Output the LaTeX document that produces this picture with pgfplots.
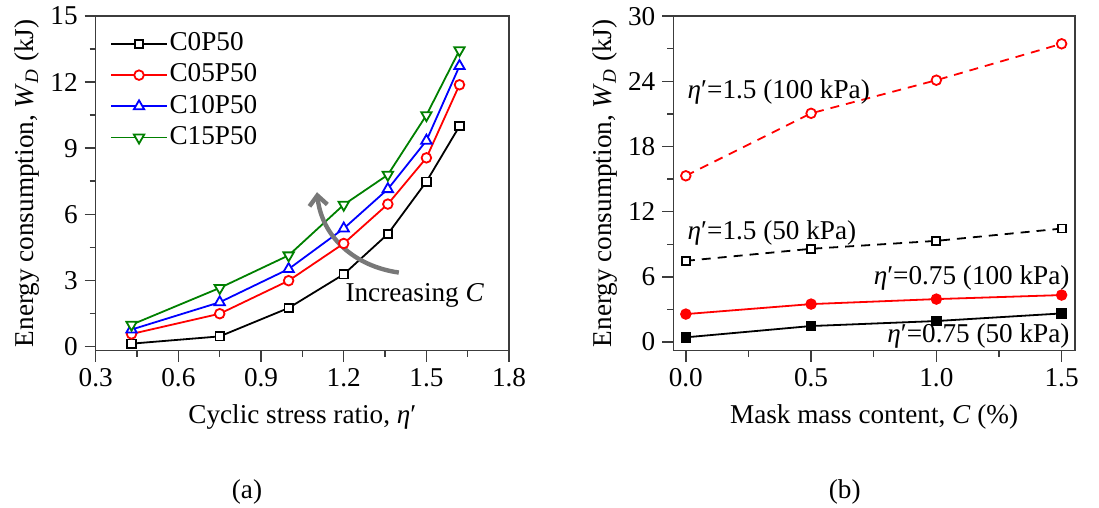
\documentclass[border=0pt]{standalone}
\usepackage{fontspec}
\setmainfont{Liberation Serif}
\usepackage{pgfplots}
\pgfplotsset{compat=1.18}
\usetikzlibrary{arrows.meta}

\definecolor{axgray}{RGB}{60,60,60}
\definecolor{arrgray}{RGB}{120,120,120}
\definecolor{cgreen}{RGB}{0,128,0}

\newcommand{\etap}{\textit{η}′}

\pgfplotsset{
  panel/.style={
    scale only axis,
    height=167.3pt,
    font=\fontsize{13.6}{16}\selectfont,
    tick label style={font=\fontsize{13.6}{16}\selectfont},
    /pgf/number format/assume math mode=true,
    axis line style={draw=axgray, line width=0.7pt},
    every tick/.style={draw=axgray, line width=0.7pt},
    tick align=outside,
    xtick pos=bottom, ytick pos=left,
    major tick length=5.5pt,
    minor tick length=3pt,
    minor tick num=1,
    clip=false,
    xlabel style={yshift=-2pt},
  },
}

\begin{document}
\begin{tikzpicture}
\useasboundingbox (0,0) rectangle (549.5pt,254pt);

% (a) energy vs cyclic stress ratio
\begin{axis}[panel,
  at={(47.85pt,78.65pt)}, anchor=south west,
  width=206.7pt,
  xmin=0.3, xmax=1.8, ymin=-0.2, ymax=15,
  xtick={0.3,0.6,...,1.8}, ytick={0,3,...,15},
  xticklabel style={/pgf/number format/.cd, fixed, fixed zerofill, precision=1},
  xlabel={Cyclic stress ratio,\ \etap},
  ylabel={Energy consumption, \textit{W}\textsubscript{\textit{D}} (kJ)},
  ylabel style={yshift=-1.5pt},
  legend cell align=left,
  legend style={at={(0.034,0.961)}, anchor=north west, draw=none, fill=none,
    inner sep=0pt, row sep=1.2pt,
    nodes={inner sep=0.8pt, text height=9.8pt, text depth=3pt}},
  legend image code/.code={\draw[mark repeat=2,mark phase=2] plot coordinates {(0pt,0pt) (14pt,0pt) (28pt,0pt)};},
]
\addplot[black, line width=0.9pt, mark=square*, mark size=2.1pt, mark options={fill=white, solid}]
  coordinates {(0.43,0.12) (0.75,0.45) (1.0,1.74) (1.2,3.27) (1.36,5.10) (1.5,7.48) (1.62,10.0)};
\addlegendentry{C0P50}
\addplot[red, line width=0.9pt, mark=*, mark size=2.4pt, mark options={fill=white, solid}]
  coordinates {(0.43,0.56) (0.75,1.48) (1.0,2.98) (1.2,4.67) (1.36,6.46) (1.5,8.56) (1.62,11.88)};
\addlegendentry{C05P50}
\addplot[blue, line width=0.9pt, mark=triangle*, mark size=3pt, mark options={fill=white, solid}]
  coordinates {(0.43,0.76) (0.75,2.0) (1.0,3.51) (1.2,5.35) (1.36,7.14) (1.5,9.34) (1.62,12.73)};
\addlegendentry{C10P50}
\addplot[cgreen, line width=0.9pt, mark=triangle*, mark size=3pt, mark options={fill=white, solid, rotate=180}]
  coordinates {(0.43,0.98) (0.75,2.65) (1.0,4.13) (1.2,6.43) (1.36,7.79) (1.5,10.5) (1.62,13.45)};
\addlegendentry{C15P50}

\draw[arrgray, line width=2.2pt, -{Straight Barb[length=5pt,width=9pt]}]
  (axis cs:1.40,3.35) to[out=172, in=-84] (axis cs:1.103,7.0);
\node[anchor=base west, inner sep=0pt] at (axis cs:1.205,2.04) {Increasing \textit{C}};
\node[inner sep=0pt] at (rel axis cs:0.366,0) [yshift=-70.5pt] {(a)};
\end{axis}

% (b) energy vs mask content
\begin{axis}[panel,
  at={(336.65pt,78.65pt)}, anchor=south west,
  width=200.8pt,
  xmin=-0.05, xmax=1.553, ymin=-0.8, ymax=30,
  xtick={0,0.5,1,1.5}, ytick={0,6,...,30},
  xticklabel style={/pgf/number format/.cd, fixed, fixed zerofill, precision=1},
  xlabel={Mask mass content, \textit{C} (\%)},
  ylabel={Energy consumption, \textit{W}\textsubscript{\textit{D}} (kJ)},
  ylabel style={yshift=-1.5pt},
]
\addplot[red, line width=0.9pt, dash pattern=on 4.5pt off 3.5pt, mark=*, mark size=2.4pt, mark options={fill=white, solid}]
  coordinates {(0,15.3) (0.5,21.05) (1.0,24.1) (1.5,27.45)};
\addplot[black, line width=0.9pt, dash pattern=on 4.5pt off 3.5pt, mark=square*, mark size=2pt, mark options={fill=white, solid}]
  coordinates {(0,7.47) (0.5,8.58) (1.0,9.31) (1.5,10.44)};
\addplot[red, line width=0.9pt, mark=*, mark size=2.4pt, mark options={fill=red, solid}]
  coordinates {(0,2.57) (0.5,3.49) (1.0,3.95) (1.5,4.32)};
\addplot[black, line width=0.9pt, mark=square*, mark size=2.2pt, mark options={fill=black, solid}]
  coordinates {(0,0.43) (0.5,1.47) (1.0,1.93) (1.5,2.63)};

\node[anchor=base west, inner sep=0pt] at (axis cs:0.006,22.43) {\etap=1.5 (100 kPa)};
\node[anchor=base west, inner sep=0pt] at (axis cs:0.006,9.47) {\etap=1.5 (50 kPa)};
\node[anchor=base east, inner sep=0pt] at (axis cs:1.533,5.27) {\etap=0.75 (100 kPa)};
\node[anchor=base east, inner sep=0pt] at (axis cs:1.533,-0.04) {\etap=0.75 (50 kPa)};
\node[inner sep=0pt] at (rel axis cs:0.427,0) [yshift=-70.5pt] {(b)};
\end{axis}
\end{tikzpicture}
\end{document}
